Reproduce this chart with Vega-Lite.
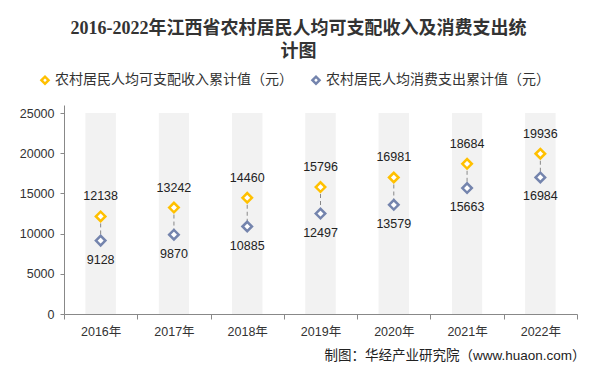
{
  "$schema": "https://vega.github.io/schema/vega-lite/v6.json",
  "autosize": {"type": "none"},
  "width": 513,
  "height": 209,
  "padding": {"left": 64, "top": 105, "right": 21, "bottom": 61},
  "background": "white",
  "config": {
    "view": {"stroke": null},
    "font": "Liberation Sans, Noto Sans CJK SC"
  },
  "title": {
    "text": ["2016-2022年江西省农村居民人均可支配收入及消费支出统", "计图"],
    "font": "Liberation Serif, Noto Sans CJK SC",
    "fontSize": 18,
    "fontWeight": "bold",
    "color": "#333333",
    "anchor": "middle",
    "dx": -22,
    "lineHeight": 23,
    "offset": 12
  },
  "data": {
    "values": [
      {"year": "2016年", "series": "收入", "value": 12138},
      {"year": "2017年", "series": "收入", "value": 13242},
      {"year": "2018年", "series": "收入", "value": 14460},
      {"year": "2019年", "series": "收入", "value": 15796},
      {"year": "2020年", "series": "收入", "value": 16981},
      {"year": "2021年", "series": "收入", "value": 18684},
      {"year": "2022年", "series": "收入", "value": 19936},
      {"year": "2016年", "series": "消费", "value": 9128},
      {"year": "2017年", "series": "消费", "value": 9870},
      {"year": "2018年", "series": "消费", "value": 10885},
      {"year": "2019年", "series": "消费", "value": 12497},
      {"year": "2020年", "series": "消费", "value": 13579},
      {"year": "2021年", "series": "消费", "value": 15663},
      {"year": "2022年", "series": "消费", "value": 16984}
    ]
  },
  "encoding": {
    "x": {
      "field": "year",
      "type": "nominal",
      "scale": {"paddingInner": 0, "paddingOuter": 0},
      "axis": {
        "labelAngle": 0,
        "labelFontSize": 12.5,
        "labelColor": "#333333",
        "labelPadding": 6,
        "domainColor": "#888888",
        "tickColor": "#888888",
        "tickSize": 5,
        "tickBand": "extent",
        "title": "制图：华经产业研究院（www.huaon.com）",
        "titleFontSize": 13.5,
        "titleFontWeight": "normal",
        "titleColor": "#222222",
        "titleAnchor": "end",
        "titleAlign": "right",
        "titleBaseline": "middle",
        "titleX": 521,
        "titleY": 41
      }
    }
  },
  "layer": [
    {
      "mark": {"type": "bar", "color": "#f2f2f2", "width": {"band": 0.41}},
      "encoding": {
        "y": {"datum": 25000, "type": "quantitative"},
        "y2": {"datum": 0}
      }
    },
    {
      "transform": [
        {"pivot": "series", "value": "value", "groupby": ["year"]}
      ],
      "mark": {"type": "rule", "color": "#888888", "strokeWidth": 1, "strokeDash": [4, 3]},
      "encoding": {
        "y": {"field": "收入", "type": "quantitative"},
        "y2": {"field": "消费"}
      }
    },
    {
      "mark": {"type": "point", "shape": "diamond", "filled": false, "fill": "white", "fillOpacity": 1, "size": 90, "strokeWidth": 2.5, "opacity": 1},
      "encoding": {
        "y": {
          "field": "value",
          "type": "quantitative",
          "scale": {"domain": [0, 25000]},
          "axis": {
            "title": null,
            "values": [0, 5000, 10000, 15000, 20000, 25000],
            "grid": false,
            "format": "d",
            "labelFontSize": 12.5,
            "labelColor": "#333333",
            "labelPadding": 6,
            "domainColor": "#888888",
            "tickColor": "#888888",
            "tickSize": 4
          }
        },
        "stroke": {
          "field": "series",
          "type": "nominal",
          "scale": {"domain": ["收入", "消费"], "range": ["#FFC000", "#7484AD"]},
          "legend": {
            "title": null,
            "orient": "none",
            "direction": "horizontal",
            "legendX": -26,
            "legendY": -32,
            "labelExpr": "datum.label == '收入' ? '农村居民人均可支配收入累计值（元）' : '农村居民人均消费支出累计值（元）'",
            "labelFontSize": 14,
            "labelLimit": 0,
            "labelColor": "#333333",
            "labelOffset": 3,
            "symbolType": "diamond",
            "symbolSize": 50,
            "symbolStrokeWidth": 2.5,
            "symbolFillColor": "white",
            "columnPadding": 14,
            "padding": 0
          }
        }
      }
    },
    {
      "transform": [{"filter": "datum.series == '收入'"}],
      "mark": {"type": "text", "dy": -20, "fontSize": 12.5, "color": "#222222"},
      "encoding": {
        "y": {"field": "value", "type": "quantitative"},
        "text": {"field": "value", "type": "quantitative", "format": "d"}
      }
    },
    {
      "transform": [{"filter": "datum.series == '消费'"}],
      "mark": {"type": "text", "dy": 19, "fontSize": 12.5, "color": "#222222"},
      "encoding": {
        "y": {"field": "value", "type": "quantitative"},
        "text": {"field": "value", "type": "quantitative", "format": "d"}
      }
    }
  ]
}
